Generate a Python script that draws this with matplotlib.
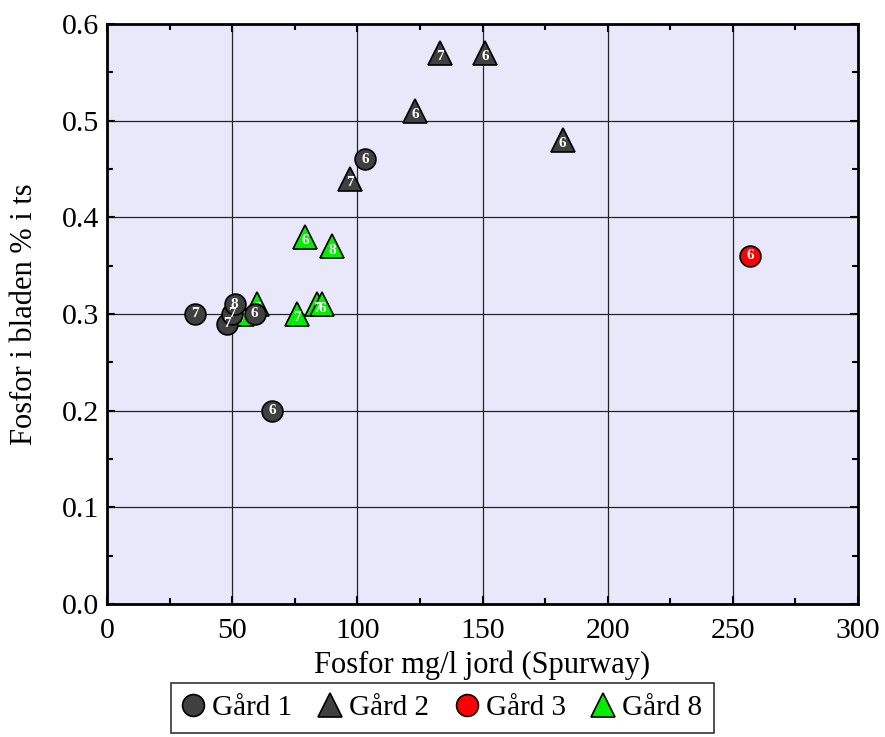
import matplotlib.pyplot as plt
from matplotlib.ticker import MultipleLocator

plt.rcParams["font.family"] = ["Liberation Serif", "DejaVu Serif"]

# Gård 1 (cirklar)
gard1_x = [35, 48, 50, 51, 59, 66, 103]
gard1_y = [0.30, 0.29, 0.30, 0.31, 0.30, 0.20, 0.46]
gard1_lab = ["7", "7", "7", "8", "6", "6", "6"]

# Gård 2 (trianglar)
gard2_x = [97, 123, 133, 151, 182]
gard2_y = [0.44, 0.51, 0.57, 0.57, 0.48]
gard2_lab = ["7", "6", "7", "6", "6"]

# Gård 3
gard3_x = [257]
gard3_y = [0.36]
gard3_lab = ["6"]

# Gård 8
gard8_x = [54, 60, 76, 79, 84, 86, 90]
gard8_y = [0.30, 0.31, 0.30, 0.38, 0.31, 0.31, 0.37]
gard8_lab = ["7", "6", "7", "6", "7", "6", "8"]

serier = [
    ("Gård 8", gard8_x, gard8_y, gard8_lab, "^", "#00ee00", 17, 3),
    ("Gård 3", gard3_x, gard3_y, gard3_lab, "o", "#ff0000", 15, 4),
    ("Gård 2", gard2_x, gard2_y, gard2_lab, "^", "#404040", 17, 5),
    ("Gård 1", gard1_x, gard1_y, gard1_lab, "o", "#404040", 15, 6),
]

fig = plt.figure(figsize=(8.85, 7.37), dpi=100)
ax = fig.add_axes([0.121, 0.1805, 0.8485, 0.787])
ax.set_facecolor("#e8e8fa")

handles = {}
for namn, xs, ys, labs, mk, farg, ms, z in serier:
    for x, y, t in zip(xs, ys, labs):
        (h,) = ax.plot(x, y, marker=mk, ms=ms, mfc=farg, mec="black", mew=1.2,
                       ls="none", zorder=z, clip_on=False)
        dy = -0.004 if mk == "^" else 0
        ax.text(x, y + dy, t, color="white", fontsize=11, fontweight="bold",
                ha="center", va="center", zorder=z + 0.1)
    handles[namn] = h

ax.set_xlim(0, 300)
ax.set_ylim(0, 0.6)
ax.xaxis.set_major_locator(MultipleLocator(50))
ax.xaxis.set_minor_locator(MultipleLocator(25))
ax.yaxis.set_major_locator(MultipleLocator(0.1))
ax.yaxis.set_minor_locator(MultipleLocator(0.05))
ax.yaxis.set_major_formatter(lambda v, p: f"{v:.1f}")
ax.grid(True, which="major", color="black", lw=0.9, alpha=0.85, zorder=1)
ax.set_axisbelow(True)
ax.tick_params(which="both", direction="in", top=True, right=True,
               labelsize=21.5, width=1.5)
ax.tick_params(which="major", length=6, pad=6)
ax.tick_params(axis="x", which="major", pad=10)
ax.tick_params(which="minor", length=4)
for s in ax.spines.values():
    s.set_linewidth(2)

ax.set_xlabel("Fosfor mg/l jord (Spurway)", fontsize=22, labelpad=5)
ax.set_ylabel("Fosfor i bladen % i ts", fontsize=22, labelpad=16)

# legenden centrerad under diagrammet
ordning = ["Gård 1", "Gård 2", "Gård 3", "Gård 8"]
leg = fig.legend([handles[n] for n in ordning], ordning, loc="upper center",
                 bbox_to_anchor=(0.5, 0.0735), borderaxespad=0, ncol=4,
                 fontsize=21, frameon=True, fancybox=False, edgecolor="black",
                 handletextpad=0.3, columnspacing=0.95, borderpad=0.4,
                 handlelength=0.7, markerscale=1.05)
leg.get_frame().set_linewidth(1.2)

fig.savefig("out.png", dpi=100)
